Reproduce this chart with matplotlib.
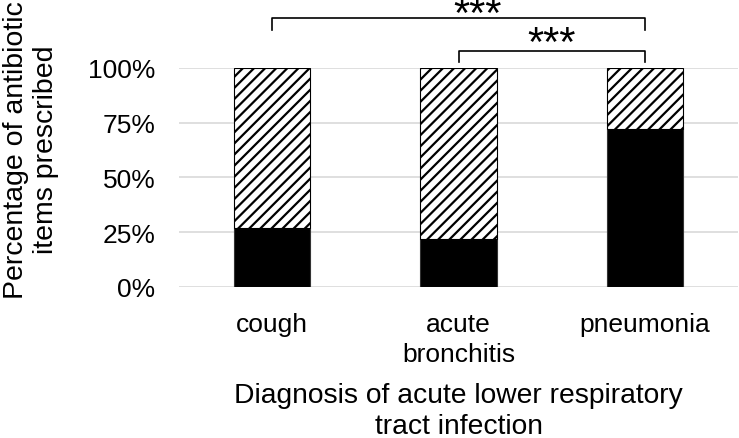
import matplotlib.pyplot as plt

categories = ["cough", "acute\nbronchitis", "pneumonia"]
black_part = [27, 22, 72]
hatched_part = [100 - v for v in black_part]

plt.rcParams['font.family'] = ['Liberation Sans', 'DejaVu Sans']
plt.rcParams['hatch.linewidth'] = 1.6

fig = plt.figure(figsize=(7.39, 4.39), dpi=100)
ax = fig.add_axes([0.242, 0.344, 0.757, 0.499])

x = range(len(categories))
ax.bar(x, black_part, width=0.41, color='black', edgecolor='#333333', linewidth=0.8, zorder=3)
ax.bar(x, hatched_part, width=0.41, bottom=black_part, color='white', edgecolor='black',
       hatch='///', linewidth=0.8, zorder=3)

ax.set_xlim(-0.5, 2.5)
ax.set_ylim(0, 100)
ax.set_yticks([0, 25, 50, 75, 100])
ax.set_yticklabels(["0%", "25%", "50%", "75%", "100%"], fontsize=19)
ax.set_xticks(list(x))
ax.set_xticklabels(categories, fontsize=19, linespacing=1.3)
ax.tick_params(axis='x', length=0, pad=18)
ax.tick_params(axis='y', length=0, pad=17)
ax.grid(axis='y', color='#d9d9d9', linewidth=1.2, zorder=0)
for s in ax.spines.values():
    s.set_visible(False)

fig.text(0.042, 0.658, "Percentage of antibiotic\nitems prescribed", fontsize=20.5,
         rotation=90, ha='center', va='center', linespacing=1.22)
ax.set_xlabel("Diagnosis of acute lower respiratory\ntract infection", fontsize=20.3,
              linespacing=1.22, labelpad=12)

# significance brackets
ax.plot([0, 0, 2, 2], [117.4, 122.8, 122.8, 117.4], color='black', linewidth=1.2, clip_on=False)
ax.text(1.1, 119.2, "***", ha='center', va='baseline', fontsize=30)
ax.plot([1, 1, 2, 2], [102.7, 107.8, 107.8, 102.7], color='black', linewidth=1.2, clip_on=False)
ax.text(1.5, 105.8, "***", ha='center', va='baseline', fontsize=30)

plt.savefig("out.png", dpi=100)
